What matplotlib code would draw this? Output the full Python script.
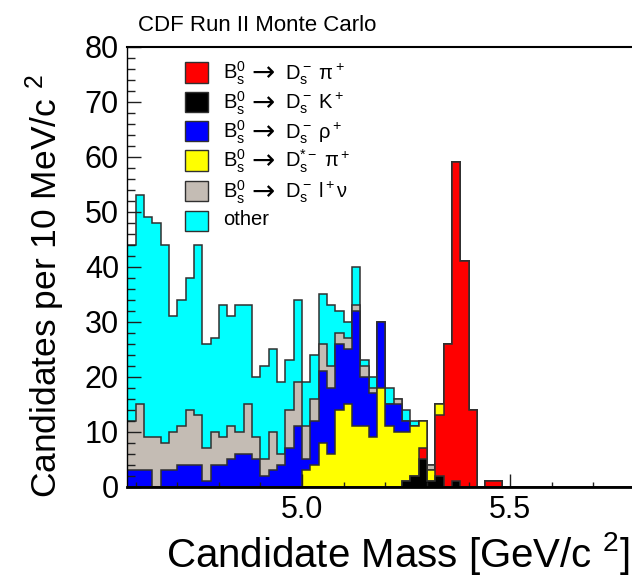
import numpy as np
import matplotlib
matplotlib.use("Agg")
import matplotlib.pyplot as plt
from matplotlib.patches import Rectangle

plt.rcParams['font.family'] = ['Liberation Sans', 'DejaVu Sans']
plt.rcParams['mathtext.fontset'] = 'custom'
plt.rcParams['mathtext.rm'] = 'Liberation Sans'
plt.rcParams['mathtext.it'] = 'Liberation Sans:italic'
plt.rcParams['mathtext.bf'] = 'Liberation Sans:bold'

# ---------------- data (candidates per bin, bins from 4.58 GeV, 0.02 GeV wide) -------------
mass_lo = 4.58
bin_width = 0.02
n_bins = 61

# B_s -> D_s K
bs_dsk = [0, 0, 0, 0, 0, 0, 0, 0, 0, 0,
          0, 0, 0, 0, 0, 0, 0, 0, 0, 0,
          0, 0, 0, 0, 0, 0, 0, 0, 0, 0,
          0, 0, 0, 1, 2, 5, 1, 2, 0, 1,
          0, 0, 0, 0, 0, 0, 0, 0, 0, 0,
          0, 0, 0, 0, 0, 0, 0, 0, 0, 0, 0]
# B_s -> D_s pi (signal)
bs_dspi = [0, 0, 0, 0, 0, 0, 0, 0, 0, 0,
           0, 0, 0, 0, 0, 0, 0, 0, 0, 0,
           0, 0, 0, 0, 0, 0, 0, 0, 0, 0,
           0, 0, 0, 0, 0, 2, 0, 11, 26, 58,
           41, 14, 0, 1, 1, 0, 0, 0, 0, 0,
           0, 0, 0, 0, 0, 0, 0, 0, 0, 0, 0]
# B_s -> D_s* pi
bs_dsstpi = [0, 0, 0, 0, 0, 0, 0, 0, 0, 0,
             0, 0, 0, 0, 0, 0, 0, 0, 0, 0,
             0, 3, 4, 8, 6, 14, 15, 11, 11, 9,
             18, 11, 10, 9, 9, 5, 2, 2, 0, 0,
             0, 0, 0, 0, 0, 0, 0, 0, 0, 0,
             0, 0, 0, 0, 0, 0, 0, 0, 0, 0, 0]
# B_s -> D_s rho
bs_dsrho = [3, 3, 3, 0, 3, 3, 4, 4, 4, 1,
            4, 4, 5, 6, 6, 5, 2, 3, 4, 7,
            11, 2, 8, 13, 12, 12, 10, 21, 9, 8,
            12, 4, 5, 2, 0, 0, 0, 0, 0, 0,
            0, 0, 0, 0, 0, 0, 0, 0, 0, 0,
            0, 0, 0, 0, 0, 0, 0, 0, 0, 0, 0]
# B_s -> D_s l nu
bs_dslnu = [9, 12, 6, 9, 5, 7, 7, 10, 9, 6,
            6, 5, 6, 4, 9, 4, 3, 7, 2, 7,
            8, 6, 4, 5, 4, 2, 2, 1, 2, 1,
            0, 0, 1, 0, 0, 0, 1, 0, 0, 0,
            0, 0, 0, 0, 0, 0, 0, 0, 0, 0,
            0, 0, 0, 0, 0, 0, 0, 0, 0, 0, 0]
# other
other = [32, 38, 40, 39, 36, 21, 23, 24, 31, 19,
         17, 24, 20, 23, 18, 11, 17, 15, 13, 9,
         15, 8, 8, 9, 11, 4, 3, 7, 1, 2,
         0, 3, 0, 2, 1, 0, 0, 0, 0, 0,
         0, 0, 0, 0, 0, 0, 0, 0, 0, 0,
         0, 0, 0, 0, 0, 0, 0, 0, 0, 0, 0]

# legend: (parent, arrow, daughters); last entry is plain text
legend_parent = r'$\mathrm{B_s^0}$'
legend_arrow = '\u2192'
legend_daughters = [r'$\mathrm{D_s^-\ \pi^+}$',
                    r'$\mathrm{D_s^-\ K^+}$',
                    r'$\mathrm{D_s^-\ \rho^+}$',
                    r'$\mathrm{D_s^{*-}\ \pi^+}$',
                    r'$\mathrm{D_s^-\ l^+\nu}$',
                    None]
legend_other = 'other'

# ---------------- styling ----------------
RED, BLACK, BLUE, YELLOW, GRAY, CYAN = '#ff0000', '#000000', '#0000ff', '#ffff00', '#c4bcb4', '#00ffff'
EDGE = '#303030'

# stack order bottom -> top
stack = [(bs_dsk, BLACK), (bs_dspi, RED), (bs_dsstpi, YELLOW),
         (bs_dsrho, BLUE), (bs_dslnu, GRAY), (other, CYAN)]
legend_colors = [RED, BLACK, BLUE, YELLOW, GRAY, CYAN]

W, H = 632, 578
fig = plt.figure(figsize=(W / 100, H / 100), dpi=100)
ax_l, ax_r, ax_b, ax_t = 127.3, 635.0, 486.7, 46.7
ax = fig.add_axes([ax_l / W, 1 - ax_b / H, (ax_r - ax_l) / W, (ax_b - ax_t) / H])

edges = mass_lo + bin_width * np.arange(n_bins + 1)
cum = np.cumsum(np.array([s[0] for s in stack], dtype=float), axis=0)
for i in reversed(range(len(stack))):
    ax.stairs(cum[i], edges, fill=True, facecolor=stack[i][1],
              edgecolor=EDGE, linewidth=1.1)

ax.set_xlim(4.58, 5.80)
ax.set_ylim(0, 80)
ax.set_xticks([5.0, 5.5])
ax.set_xticklabels(['5.0', '5.5'])
ax.set_xticks([4.6, 4.7, 4.8, 4.9, 5.1, 5.2, 5.3, 5.4, 5.6, 5.7], minor=True)
ax.set_yticks(np.arange(0, 81, 10))
ax.set_yticks(np.arange(0, 81, 2), minor=True)
ax.tick_params(which='both', direction='in', top=False, right=False, color='#202020')
ax.tick_params(axis='y', which='major', length=10, width=1, labelsize=22, pad=6)
ax.tick_params(axis='y', which='minor', length=5.5, width=1)
ax.tick_params(axis='x', which='major', length=9.5, width=1, labelsize=22, pad=6)
ax.tick_params(axis='x', which='minor', length=3.8, width=1)

ax.spines['bottom'].set_linewidth(2.0)
ax.spines['top'].set_linewidth(1.5)
ax.spines['left'].set_linewidth(1.0)
ax.spines['right'].set_visible(False)

# texts
fig.text(138 / W, 1 - 31 / H, 'CDF Run II Monte Carlo', fontsize=16, ha='left', va='baseline')
fig.text(630 / W, 1 - 567 / H, 'Candidate Mass [GeV/c $^{2}$]', fontsize=29,
         ha='right', va='baseline')
fig.text(67 / W, 1 - 498 / H, 'Candidates per 10 MeV/c $^{2}$', fontsize=25.5,
         rotation=90, ha='right', va='bottom')

# legend
centers = [72.5, 102, 131, 160.5, 191, 221]
for dau, col, cy in zip(legend_daughters, legend_colors, centers):
    fig.patches.append(Rectangle((185 / W, 1 - (cy + 10.3) / H), 23 / W, 20.6 / H,
                                 transform=fig.transFigure, facecolor=col,
                                 edgecolor=EDGE, linewidth=1.0))
    if dau is None:
        fig.text(223 / W, 1 - (cy + 4) / H, legend_other, fontsize=14.5,
                 ha='left', va='baseline')
        continue
    base = cy + 7
    fig.text(223 / W, 1 - base / H, legend_parent, fontsize=14.5, ha='left', va='baseline')
    fig.text(251 / W, 1 - (base + 2) / H, legend_arrow, fontsize=20, ha='left',
             va='baseline', family='DejaVu Sans')
    fig.text(285 / W, 1 - base / H, dau, fontsize=14.5, ha='left', va='baseline')

fig.savefig('out.png', dpi=100)
